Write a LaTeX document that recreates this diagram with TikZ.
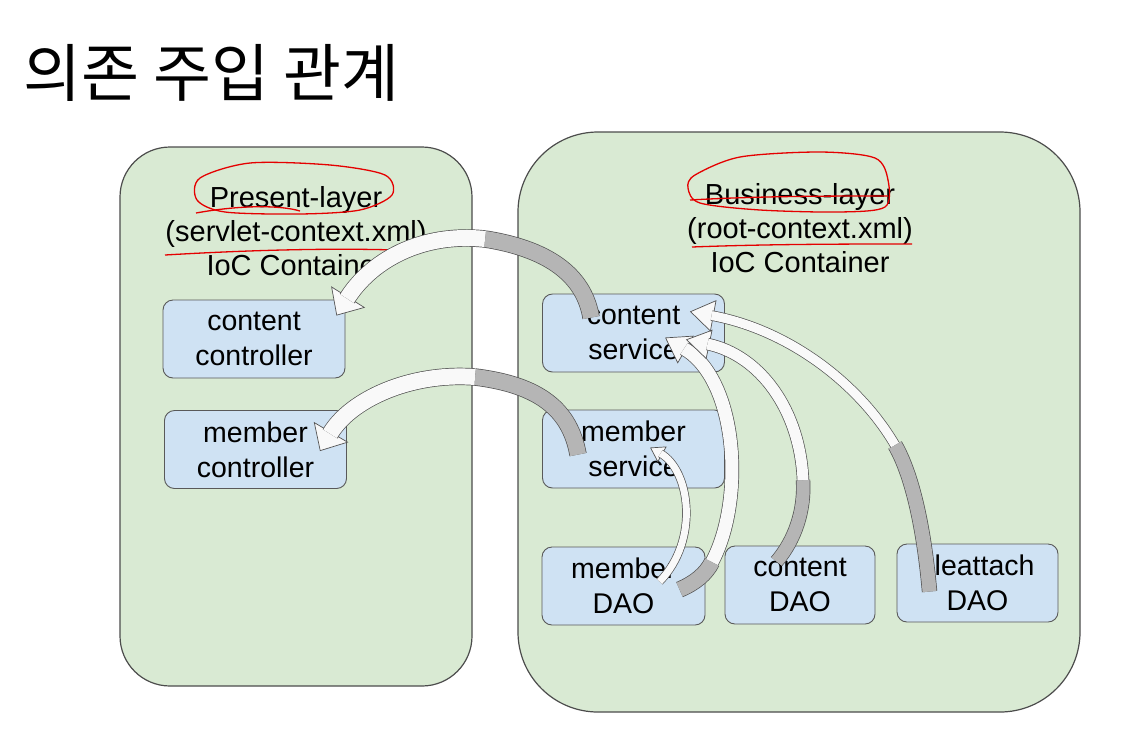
\documentclass[tikz,border=0pt]{standalone}
\usepackage{fontspec}
\setmainfont{Liberation Sans}
\newfontfamily\krfont{Noto Sans CJK KR}
\usetikzlibrary{calc,arrows.meta}

\definecolor{cgreen}{HTML}{D9EAD3}
\definecolor{cblue}{HTML}{CFE2F3}

\begin{document}
\begin{tikzpicture}[
    x=1pt,y=-1pt,
    layer/.style={
        draw=gray!60!black,
        line width=1.2pt,
        fill=cgreen,
    },
    bean/.style={
        draw=gray!70!black,
        line width=0.9pt,
        fill=cblue,
        rounded corners=10pt,
        minimum width=182pt,
        minimum height=78pt,
        align=center,
        font=\fontsize{28.5}{35}\selectfont,
        inner sep=0pt,
    },
    title/.style={
        align=center,
        font=\fontsize{29}{34}\selectfont,
    },
    band/.style={
        draw=gray!65!black,
        line width=0.7pt,
        double distance=#1,
    },
    darkband/.style={band=#1, double=gray!58},
    lightband/.style={band=#1, double=gray!5},
    tip/.style 2 args={
        draw=gray!65!black,
        line width=0.7pt,
        -{Triangle[length=#1pt,width=#2pt,fill=gray!5]},
    },
    scribble/.style={red!90!black, line width=1.3pt},
]

\useasboundingbox (0,0) rectangle (1138,740);

\node[anchor=base west,font=\krfont\fontsize{63}{70}\selectfont] (head) at (20,96) {의존 주입 관계};

% containers
\draw[layer,rounded corners=50pt] (120,147) rectangle (472,686);
\draw[layer,rounded corners=80pt] (518,132) rectangle (1080,712);

\node[title] (present)  at (296,231) {Present-layer\\(servlet-context.xml)\\IoC Container};
\node[title] (business) at (800,228) {Business-layer\\(root-context.xml)\\IoC Container};

% beans
\node[bean] (cctrl) at (254,339)   {content\\controller};
\node[bean] (mctrl) at (255.5,449.5) {member\\controller};
\node[bean] (csvc)  at (633.5,333) {content\\service};
\node[bean] (msvc)  at (633.5,449) {member\\service};
\node[bean,minimum width=163pt] (mdao) at (623.5,586) {member\\DAO};
\node[bean,minimum width=150pt] (cdao) at (800,585)   {content\\DAO};
\node[bean,minimum width=161pt] (fdao) at (977.5,583) {fileattach\\DAO};

% red marks
\draw[scribble] plot[smooth cycle] coordinates {(200,178) (250,163) (330,165) (385,175) (392,195) (360,210) (300,214) (225,212) (197,200)};
\draw[scribble] (196,213) .. controls (240,205) and (280,205) .. (300,211);
\draw[scribble] (165,255) .. controls (250,250) and (330,248) .. (396,250);
\draw[scribble] plot[smooth cycle] coordinates {(695,175) (740,157) (820,152) (875,158) (888,180) (885,207) (840,212) (760,210) (700,203) (688,188)};
\draw[scribble] (690,200) .. controls (760,196) and (830,196) .. (888,196);
\draw[scribble] (692,247) .. controls (770,244) and (850,244) .. (912,244);

% injections: content service -> content controller
\draw[darkband=16pt] ($(csvc.north west)+(49,24)$) .. controls (585,280) and (555,250) .. (485,239) coordinate (t1);
\draw[tip={22}{40}] (t1) .. controls (420,232) and (370,262) .. ($(cctrl.north east)+(-9,16)$);
\draw[lightband=16pt,shorten >=20pt] (t1) .. controls (420,232) and (370,262) .. ($(cctrl.north east)+(-9,16)$);

% member service -> member controller
\draw[darkband=16pt] ($(msvc.north west)+(36,45)$) .. controls (570,410) and (540,385) .. (475,377) coordinate (t2);
\draw[tip={22}{40}] (t2) .. controls (410,372) and (350,400) .. ($(mctrl.north east)+(-27,41)$);
\draw[lightband=16pt,shorten >=20pt] (t2) .. controls (410,372) and (350,400) .. ($(mctrl.north east)+(-27,41)$);

% member DAO -> member service
\draw[tip={14}{18}] ($(mdao.north west)+(118,35)$) .. controls (700,540) and (690,470) .. ($(msvc.north west)+(108,38)$);
\draw[lightband=7pt,shorten >=12pt] ($(mdao.north west)+(118,35)$) .. controls (700,540) and (690,470) .. ($(msvc.north west)+(108,38)$);

% member DAO -> content service
\draw[darkband=15pt] ($(mdao.north west)+(138,43)$) .. controls (695,583) and (706,574) .. (712,562) coordinate (t4);
\draw[tip={24}{32}] (t4) .. controls (745,500) and (738,380) .. ($(csvc.north west)+(123,44)$);
\draw[lightband=13pt,shorten >=22pt] (t4) .. controls (745,500) and (738,380) .. ($(csvc.north west)+(123,44)$);

% content DAO -> content service
\draw[darkband=13pt] ($(cdao.north west)+(52,16)$) .. controls (795,540) and (805,510) .. (803,480) coordinate (t5);
\draw[tip={24}{30}] (t5) .. controls (800,410) and (760,355) .. ($(csvc.north east)+(-39,46)$);
\draw[lightband=11pt,shorten >=22pt] (t5) .. controls (800,410) and (760,355) .. ($(csvc.north east)+(-39,46)$);

% fileattach DAO -> content service
\draw[darkband=14pt] ($(fdao.north west)+(33,48)$) .. controls (925,540) and (915,480) .. (895,445) coordinate (t6);
\draw[tip={24}{32}] (t6) .. controls (860,385) and (790,330) .. ($(csvc.north east)+(-35,18)$);
\draw[lightband=9pt,shorten >=22pt] (t6) .. controls (860,385) and (790,330) .. ($(csvc.north east)+(-35,18)$);

\end{tikzpicture}
\end{document}
